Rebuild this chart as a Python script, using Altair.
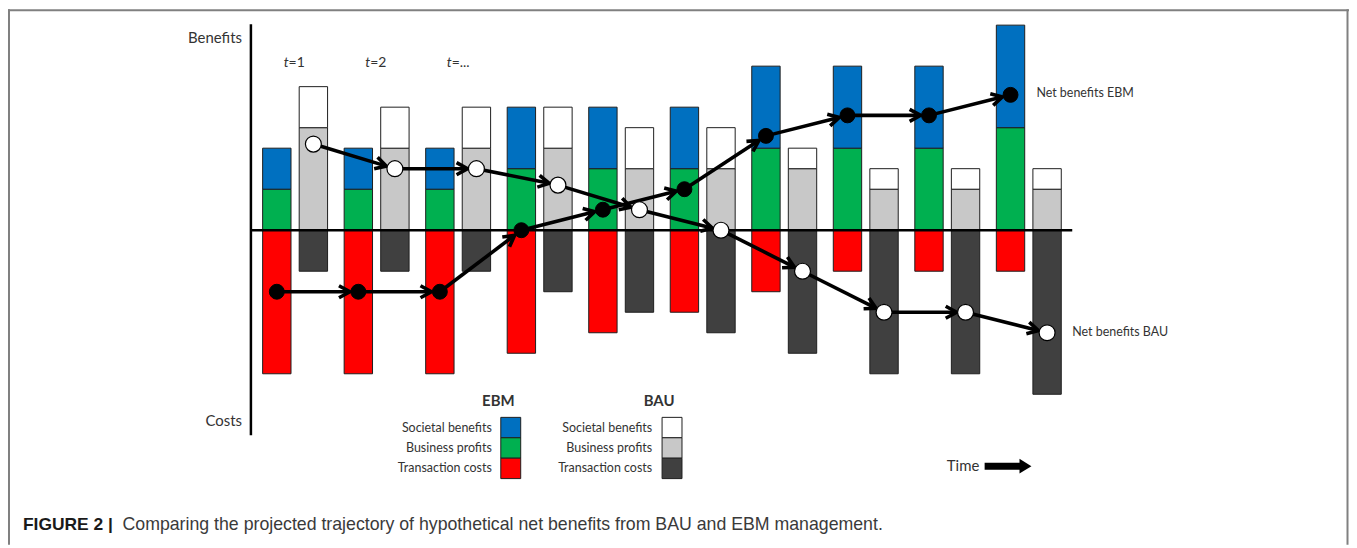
import math
import altair as alt
import pandas as pd

# ---------------- data ----------------
periods = list(range(1, 11))
ebm_costs = [7, 7, 7, 6, 5, 4, 3, 2, 2, 2]
ebm_profits = [2, 2, 2, 3, 3, 3, 4, 4, 4, 5]
ebm_societal = [2, 2, 2, 3, 3, 3, 4, 4, 4, 5]
bau_costs = [2, 2, 2, 3, 4, 5, 6, 7, 7, 8]
bau_profits = [5, 4, 4, 4, 3, 3, 3, 2, 2, 2]
bau_societal = [2, 2, 2, 2, 2, 2, 1, 1, 1, 1]
ebm_net = [-3, -3, -3, 0, 1, 2, 4.6, 5.6, 5.6, 6.6]
bau_net = [4.2, 3, 3, 2.2, 1, 0, -2, -4, -4, -5]
time_labels = ["1", "2", "..."]
legend_items = ["Societal benefits", "Business profits", "Transaction costs"]
ebm_colors = ["#0070C0", "#00B050", "#FF0000"]
bau_colors = ["#FFFFFF", "#C8C8C8", "#404040"]

# ---------------- layout constants ----------------
W, H = 1347, 538
X0, DX = 285.5, 82.5      # pixel of period-1 centre, pixels per period
Y0, DY = 222.0, 20.6      # pixel of zero line, pixels per unit
OFF = 18.5 / DX           # EBM / BAU offset from period centre
BAR_PX = 28.5
FONT = "Lato"
TXT = "#333333"

x_dom = [1 - X0 / DX, 1 + (W - X0) / DX]
y_dom = [-(H - Y0) / DY, Y0 / DY]
xs = alt.Scale(domain=x_dom, nice=False, zero=False)
ys = alt.Scale(domain=y_dom, nice=False, zero=False)

comp_domain = [f"EBM {l}" for l in legend_items] + [f"BAU {l}" for l in legend_items]
comp_range = ebm_colors + bau_colors

# ---------------- bars ----------------
rows = []
for i, p in enumerate(periods):
    for series, off, costs, prof, soc in [
        ("EBM", -OFF, ebm_costs, ebm_profits, ebm_societal),
        ("BAU", OFF, bau_costs, bau_profits, bau_societal),
    ]:
        x = p + off
        rows.append(dict(x=x, y=0, y2=-costs[i], comp=f"{series} Transaction costs"))
        rows.append(dict(x=x, y=0, y2=prof[i], comp=f"{series} Business profits"))
        rows.append(dict(x=x, y=prof[i], y2=prof[i] + soc[i], comp=f"{series} Societal benefits"))
bars_df = pd.DataFrame(rows)

bars = alt.Chart(bars_df).mark_bar(size=BAR_PX, stroke="#1e1e1e", strokeWidth=1).encode(
    x=alt.X("x:Q", scale=xs, axis=None),
    y=alt.Y("y:Q", scale=ys, axis=None, stack=None),
    y2="y2:Q",
    color=alt.Color("comp:N", scale=alt.Scale(domain=comp_domain, range=comp_range), legend=None),
)

# ---------------- trajectories ----------------
def to_px(x, y):
    return X0 + (x - 1) * DX, Y0 - y * DY


def to_data(px, py):
    return (px - X0) / DX + 1, (Y0 - py) / DY


seg_rows, head_rows, dot_rows = [], [], []
for series, off, net, r in [("EBM", -OFF, ebm_net, 8.5), ("BAU", OFF, bau_net, 9.0)]:
    for i in range(len(periods)):
        dot_rows.append(dict(series=series, x=periods[i] + off, y=net[i]))
    for i in range(len(periods) - 1):
        ax, ay = to_px(periods[i] + off, net[i])
        bx, by = to_px(periods[i + 1] + off, net[i + 1])
        dx, dy = bx - ax, by - ay
        L = math.hypot(dx, dy)
        ux, uy = dx / L, dy / L
        tx, ty = bx - ux * r, by - uy * r
        ex, ey = tx - ux * 2.5, ty - uy * 2.5
        x2, y2 = to_data(ex, ey)
        seg_rows.append(dict(series=series, x=periods[i] + off, y=net[i], x2=x2, y2=y2))
        hx, hy = to_data(tx, ty)
        head_rows.append(dict(series=series, x=hx, y=hy,
                              angle=math.degrees(math.atan2(dy, dx)) % 360))

seg_df = pd.DataFrame(seg_rows)
head_df = pd.DataFrame(head_rows)
dot_df = pd.DataFrame(dot_rows)

segs = alt.Chart(seg_df).mark_rule(color="black", strokeWidth=3.6).encode(
    x=alt.X("x:Q", scale=xs, axis=None), y=alt.Y("y:Q", scale=ys, axis=None),
    x2="x2:Q", y2="y2:Q",
)
heads = alt.Chart(head_df).mark_point(
    shape="M -1 -0.55 L 0 0 L -1 0.55", filled=False, stroke="black", strokeWidth=3.6,
    size=484, opacity=1, strokeJoin="miter", strokeCap="butt",
).encode(
    x=alt.X("x:Q", scale=xs, axis=None), y=alt.Y("y:Q", scale=ys, axis=None),
    angle=alt.Angle("angle:Q", scale=None),
)
ebm_dots = alt.Chart(dot_df).transform_filter("datum.series == 'EBM'").mark_point(
    shape="circle", filled=True, fill="black", stroke="black", strokeWidth=1, size=225, opacity=1,
).encode(x=alt.X("x:Q", scale=xs, axis=None), y=alt.Y("y:Q", scale=ys, axis=None))
bau_dots = alt.Chart(dot_df).transform_filter("datum.series == 'BAU'").mark_point(
    shape="circle", filled=True, fill="white", stroke="black", strokeWidth=1.2, size=256, opacity=1,
).encode(x=alt.X("x:Q", scale=xs, axis=None), y=alt.Y("y:Q", scale=ys, axis=None))

# ---------------- axes lines ----------------
one = pd.DataFrame({"a": [0]})
zero_line = alt.Chart(one).mark_rule(color="black", strokeWidth=2.5).encode(
    x=alt.value(244), x2=alt.value(1069), y=alt.value(Y0), y2=alt.value(Y0))
v_axis = alt.Chart(one).mark_rule(color="black", strokeWidth=2.5).encode(
    x=alt.value(244), x2=alt.value(244), y=alt.value(15), y2=alt.value(428))

# ---------------- border ----------------
bcol, bw = "#808080", 2
border = [
    alt.Chart(one).mark_rule(color=bcol, strokeWidth=bw).encode(
        x=alt.value(1), x2=alt.value(1), y=alt.value(0), y2=alt.value(H)),
    alt.Chart(one).mark_rule(color=bcol, strokeWidth=bw).encode(
        x=alt.value(0), x2=alt.value(W), y=alt.value(1), y2=alt.value(1)),
    alt.Chart(one).mark_rule(color=bcol, strokeWidth=bw).encode(
        x=alt.value(W - 1.5), x2=alt.value(W - 1.5), y=alt.value(0), y2=alt.value(H)),
]


def label(text, x, y, size=14, align="left", weight="normal", font=FONT, color=TXT, style="normal"):
    return alt.Chart(one).mark_text(
        text=text, align=align, baseline="middle", fontSize=size, font=font,
        fontWeight=weight, color=color, fontStyle=style,
    ).encode(x=alt.value(x), y=alt.value(y))


texts = [
    label("Benefits", 235, 29, size=15, align="right"),
    label("Costs", 235, 414, size=15, align="right"),
    label("Net benefits EBM", 1033, 84, size=12.5),
    label("Net benefits BAU", 1069, 324, size=12.5),
    label("EBM", 492.5, 394, size=15, align="center", weight="bold"),
    label("BAU", 654, 394, size=15, align="center", weight="bold"),
    label("Time", 943, 459, size=15),
    label("FIGURE 2 |", 15, 518, size=17.5, weight="bold", font="Liberation Sans", color="#1a1a1a"),
    label("Comparing the projected trajectory of hypothetical net benefits from BAU and EBM management.",
          115, 518, size=17.8, font="Liberation Sans", color="#3a3a3a"),
]

# time period labels
t_df = pd.DataFrame({"x": periods[: len(time_labels)], "lab": ["=" + t for t in time_labels]})
t_italic = alt.Chart(t_df).mark_text(text="t", fontStyle="italic", align="right", dx=-6.5,
                                     fontSize=14, font=FONT, color=TXT, baseline="middle").encode(
    x=alt.X("x:Q", scale=xs, axis=None), y=alt.value(54))
t_rest = alt.Chart(t_df).mark_text(align="left", dx=-6.5, fontSize=14, font=FONT, color=TXT,
                                   baseline="middle").encode(
    x=alt.X("x:Q", scale=xs, axis=None), y=alt.value(54), text="lab:N")

# time arrow
time_shaft = alt.Chart(one).mark_rect(color="black").encode(
    x=alt.value(981), x2=alt.value(1018), y=alt.value(455.5), y2=alt.value(462.5))
time_head = alt.Chart(one).mark_point(shape="M -0.8 -1 L 0.8 0 L -0.8 1 Z", filled=True,
                                      fill="black", size=225, opacity=1).encode(
    x=alt.value(1022), y=alt.value(459))

# ---------------- legend ----------------
SW_H = 20.5
leg_rows = []
for series, sx, lx, cols in [("EBM", 495, 486, ebm_colors), ("BAU", 657, 647, bau_colors)]:
    for k, (lab, c) in enumerate(zip(legend_items, cols)):
        top = 410 + k * SW_H
        leg_rows.append(dict(label=lab, color=c, x1=sx, x2=sx + 20, y1=top, y2=top + SW_H,
                             lx=lx, ly=top + SW_H / 2))
leg_df = pd.DataFrame(leg_rows)
leg_sw = alt.Chart(leg_df).mark_rect(stroke="#1e1e1e", strokeWidth=1).encode(
    x=alt.X("x1:Q", scale=None), x2="x2:Q", y=alt.Y("y1:Q", scale=None), y2="y2:Q",
    fill=alt.Fill("color:N", scale=None),
)
leg_txt = alt.Chart(leg_df).mark_text(align="right", baseline="middle", fontSize=12.5,
                                      font=FONT, color=TXT).encode(
    x=alt.X("lx:Q", scale=None), y=alt.Y("ly:Q", scale=None), text="label:N")

chart = alt.layer(
    *border, bars, zero_line, v_axis, segs, heads, ebm_dots, bau_dots,
    t_italic, t_rest, time_shaft, time_head, leg_sw, leg_txt, *texts,
).properties(
    width=W, height=H, autosize=alt.AutoSizeParams(type="none"), padding=0,
    background="white",
).configure_view(strokeWidth=0)

chart.save("out.html", embed_options={"renderer": "svg", "actions": False})
